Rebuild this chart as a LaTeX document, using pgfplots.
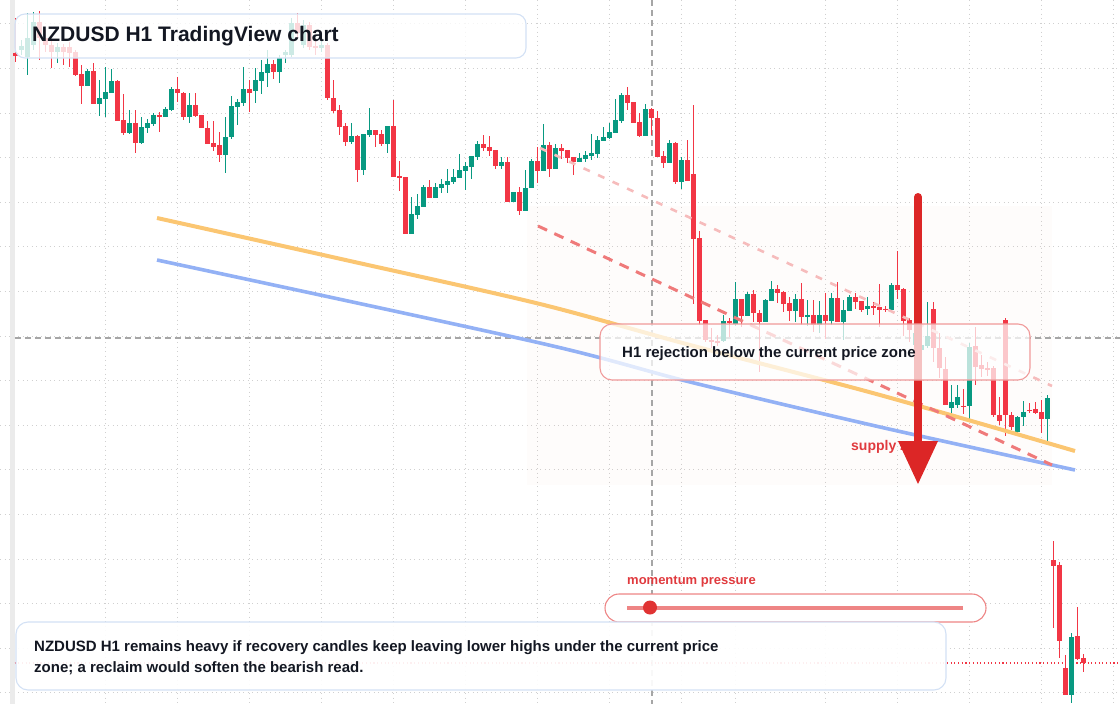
\documentclass[border=0pt]{standalone}
\usepackage{pgfplots}
\pgfplotsset{compat=1.18}
\usepackage{pgfplotstable}
\usepackage{fontspec}
\setmainfont{Liberation Sans}
\definecolor{cgreen}{HTML}{089981}
\definecolor{cred}{HTML}{F23645}
\definecolor{gridc}{HTML}{D0D0D0}
\definecolor{txt}{HTML}{131722}
\definecolor{orangeL}{HTML}{FBC672}
\definecolor{blueL}{HTML}{93B1F5}
\definecolor{dashA}{HTML}{EF7A7A}
\definecolor{dashB}{HTML}{F6BCBC}
\definecolor{arrowc}{HTML}{DC2626}
\definecolor{boxblue}{HTML}{D3E1F5}
\definecolor{boxred}{HTML}{F09A9A}
\definecolor{zonec}{HTML}{E03A3E}
\definecolor{pillc}{HTML}{EE8585}
\definecolor{dotc}{HTML}{E03333}
\definecolor{crossc}{HTML}{A6A6A6}
\definecolor{stripc}{HTML}{EBEBEB}
\definecolor{shadec}{HTML}{F0AA8C}

% green (rising) candles: i, open, close, high, low  (vertical values in chart pixels, top = 0)
\pgfplotstableread{
i o c h l
1 50 46 40 55
2 57 38 13 75
3 45 22 12 50
7 52 47 43 63
12 86 71 69 86
14 104 98 80 116
15 99 92 67 117
16 93 81 69 93
19 133 123 110 134
21 143 127 117 144
22 128 123 119 133
23 124 115 113 126
25 117 109 107 117
26 110 89 87 111
29 117 105 93 123
35 155 137 117 173
36 137 106 96 139
37 107 102 99 125
38 103 89 67 106
40 91 80 68 103
41 81 72 60 94
42 73 64 50 87
44 72 58 55 83
45 55 52 50 63
46 55 23 18 57
48 45 25 20 48
51 48 45 38 52
56 142 136 123 144
58 170 134 134 175
59 135 130 108 137
62 144 126 126 153
66 234 214 197 234
67 215 206 194 219
68 207 187 185 207
70 198 187 183 198
71 188 184 179 193
72 185 181 169 193
73 182 177 169 184
74 178 170 154 178
75 171 166 162 190
76 167 156 156 179
77 157 144 141 160
81 166 162 157 169
83 202 192 192 202
85 211 188 170 211
86 188 161 159 188
88 171 145 124 171
90 169 148 144 169
94 162 158 153 162
95 159 155 151 162
96 156 153 134 160
97 154 140 136 158
98 141 137 127 141
99 138 132 123 139
100 133 120 99 133
101 121 95 93 123
105 136 109 104 136
109 163 143 140 163
111 182 160 157 189
118 341 321 315 342
120 324 299 282 326
122 316 294 292 316
125 322 300 299 322
126 301 289 281 301
130 311 299 294 322
132 317 315 300 326
134 325 315 301 333
136 321 298 293 325
138 322 310 300 340
139 311 297 295 311
142 309 306 297 315
146 310 285 283 312
150 345 333 328 350
151 350 345 342 352
152 346 336 302 348
156 408 402 385 413
157 405 397 385 408
159 406 347 343 421
167 432 417 416 433
168 417 412 401 426
172 419 398 395 442
176 695 637 633 703
}\upT

% red (falling) candles
\pgfplotstableread{
i o c h l
0 53 56 18 62
4 22 38 11 60
5 38 45 30 52
6 45 52 40 68
8 47 52 44 65
9 47 53 42 67
10 52 75 50 76
11 74 86 65 104
13 71 104 63 104
17 81 121 80 121
18 120 133 94 135
20 123 143 110 153
24 115 117 112 132
27 89 93 77 102
28 93 117 92 120
30 105 116 93 117
31 115 128 115 128
32 128 144 121 144
33 143 147 121 151
34 145 155 132 162
39 89 93 80 112
43 64 72 60 79
47 23 33 13 38
49 25 47 22 50
50 46 48 40 55
52 45 98 43 100
53 98 111 80 113
54 110 127 105 135
55 126 142 123 146
57 136 170 135 182
60 130 135 130 147
61 134 144 130 146
63 126 177 100 177
64 176 178 161 191
65 177 234 177 234
69 187 198 180 198
78 144 148 135 151
79 147 151 136 156
80 150 166 150 169
82 162 202 157 202
84 192 211 187 215
87 161 171 147 183
89 145 169 142 177
91 148 151 144 159
92 150 158 150 163
93 157 162 157 175
102 95 103 87 110
103 102 123 102 123
104 122 136 113 137
106 109 118 108 135
107 118 157 111 157
108 156 163 151 168
110 143 182 142 184
112 160 181 140 181
113 174 239 105 304
114 238 321 231 325
115 320 340 320 342
116 340 342 328 348
117 341 343 335 346
119 321 323 318 337
121 299 316 299 327
123 294 313 290 322
124 313 322 310 372
127 289 293 285 303
128 292 304 291 312
129 303 311 297 321
131 299 317 283 325
133 315 325 300 332
135 315 321 293 339
137 298 322 282 322
140 297 302 293 309
141 301 310 301 312
143 306 308 302 315
144 307 310 284 327
145 308.5 310 306 312
147 285 290 251 299
148 289 321 288 336
149 320 330 318 342
153 309 348 302 362
154 348 368 333 378
155 369 405 357 405
158 405.5 406.5 389 414
160 346 367 327 385
161 365 369 355 377
162 368 370 362 376
163 368 415 366 417
164 415 421 397 425
165 320 415 318 436
166 415 427 412 430
169 409.5 410.5 403 413
170 409 413 402 414
171 412 419 400 433
173 560 566 541 628
174 565 641 562 658
175 668 695 655 695
177 636 659 607 660
178 658 663 654 672
}\downT

\begin{document}
\begin{tikzpicture}
\begin{axis}[
  at={(0,0)}, anchor=south west,
  width=1120pt, height=704pt, scale only axis,
  xmin=0, xmax=1120, ymin=0, ymax=704, y dir=reverse,
  clip=false,
  axis line style={draw=none},
  major tick length=0pt,
  xtick={105,177,249,321,393,465,537,609,681,735,825,897,969,1041,1113},
  ytick={23.8,68.4,113,157.6,202.2,246.8,291.4,336,380.6,425.2,469.8,514.4,559,603.6,648.2,692.8},
  xticklabels={}, yticklabels={},
  grid=major,
  major grid style={draw=gridc, line width=1pt, dash pattern=on 1.2pt off 3.3pt},
  candle/.style={draw=none, mark=none, forget plot},
]
% left strip
\fill[stripc] (axis cs:9.5,0) rectangle (axis cs:14.5,704);
% supply zone shading
\fill[shadec, fill opacity=0.035] (axis cs:527,206) rectangle (axis cs:1052,485);
% crosshair
\draw[crossc, line width=1.1pt, dash pattern=on 6pt off 4pt] (axis cs:652,0) -- (axis cs:652,704);
\draw[crossc, line width=1.1pt, dash pattern=on 6pt off 4pt] (axis cs:14.5,338) -- (axis cs:1120,338);
% last price line
\draw[cred, line width=1.1pt, dash pattern=on 1.1pt off 2.6pt] (axis cs:14.5,663) -- (axis cs:1120,663);

% wicks
\addplot[candle,
  error bars/.cd, y dir=plus, y explicit, error mark=none,
  error bar style={line width=1.1pt, draw=cgreen}]
  table[x expr=15.7+6*\thisrow{i}, y=h, y error plus expr=\thisrow{l}-\thisrow{h}] {\upT};
\addplot[candle,
  error bars/.cd, y dir=plus, y explicit, error mark=none,
  error bar style={line width=1.1pt, draw=cred}]
  table[x expr=15.7+6*\thisrow{i}, y=h, y error plus expr=\thisrow{l}-\thisrow{h}] {\downT};
% bodies
\addplot[candle,
  error bars/.cd, y dir=plus, y explicit, error mark=none,
  error bar style={line width=4.6pt, draw=cgreen}]
  table[x expr=15.7+6*\thisrow{i}, y expr={min(\thisrow{o},\thisrow{c})}, y error plus expr={max(abs(\thisrow{c}-\thisrow{o}),1.2)}] {\upT};
\addplot[candle,
  error bars/.cd, y dir=plus, y explicit, error mark=none,
  error bar style={line width=4.6pt, draw=cred}]
  table[x expr=15.7+6*\thisrow{i}, y expr={min(\thisrow{o},\thisrow{c})}, y error plus expr={max(abs(\thisrow{c}-\thisrow{o}),1.2)}] {\downT};

% trend guides
\addplot[orangeL, line width=4pt, smooth, mark=none] coordinates {(157,218) (350,261) (540,304) (690,345) (880,395) (1075,451)};
\addplot[blueL, line width=3.6pt, smooth, mark=none] coordinates {(157,260) (540,343) (690,382) (880,427) (1075,470)};
\addplot[dashB, line width=2.6pt, mark=none, dash pattern=on 7pt off 9pt] coordinates {(540,148) (1052,386)};
\addplot[dashA, line width=3pt, mark=none, dash pattern=on 10pt off 8pt] coordinates {(538,226) (1052,465)};

% supply zone label and arrow
\node[anchor=west, inner sep=0pt, text=zonec, font=\bfseries\fontsize{14}{16}\selectfont] at (axis cs:851,447) {supply zone};
\draw[arrowc, line width=8pt, line cap=round] (axis cs:918,197) -- (axis cs:918,445);
\fill[arrowc] (axis cs:898,441) -- (axis cs:938,441) -- (axis cs:918,484) -- cycle;

% rejection label box
\draw[boxred, line width=1.1pt, rounded corners=12pt, fill=white, fill opacity=0.72] (axis cs:600,324) rectangle (axis cs:1030,380);
\node[anchor=west, inner sep=0pt, text=txt, font=\bfseries\fontsize{15}{18}\selectfont] at (axis cs:622,353.5) {H1 rejection below the current price zone};

% title box
\draw[boxblue, line width=1.1pt, rounded corners=10pt, fill=white, fill opacity=0.8] (axis cs:15,14) rectangle (axis cs:526,58);
\node[anchor=west, inner sep=0pt, text=txt, font=\bfseries\fontsize{21}{25}\selectfont] at (axis cs:32,36) {NZDUSD H1 TradingView chart};

% momentum pill
\node[anchor=west, inner sep=0pt, text=zonec, font=\bfseries\fontsize{13}{15}\selectfont] at (axis cs:627,582) {momentum pressure};
\draw[pillc, line width=1.1pt, rounded corners=14pt, fill=white] (axis cs:605,594) rectangle (axis cs:986,622);
\draw[pillc, line width=4pt] (axis cs:627,607.5) -- (axis cs:963,607.5);
\fill[dotc] (axis cs:650,607.5) circle[radius=7pt];

% bottom note box
\draw[boxblue, line width=1.1pt, rounded corners=12pt, fill=white, fill opacity=0.92] (axis cs:16,622) rectangle (axis cs:946,690);
\node[anchor=west, inner sep=0pt, text=txt, font=\bfseries\fontsize{15}{18}\selectfont] at (axis cs:34,648) {NZDUSD H1 remains heavy if recovery candles keep leaving lower highs under the current price};
\node[anchor=west, inner sep=0pt, text=txt, font=\bfseries\fontsize{15}{18}\selectfont] at (axis cs:34,668) {zone; a reclaim would soften the bearish read.};
\end{axis}
\pgfresetboundingbox
\useasboundingbox (current axis.south west) rectangle (current axis.north east);
\end{tikzpicture}
\end{document}
